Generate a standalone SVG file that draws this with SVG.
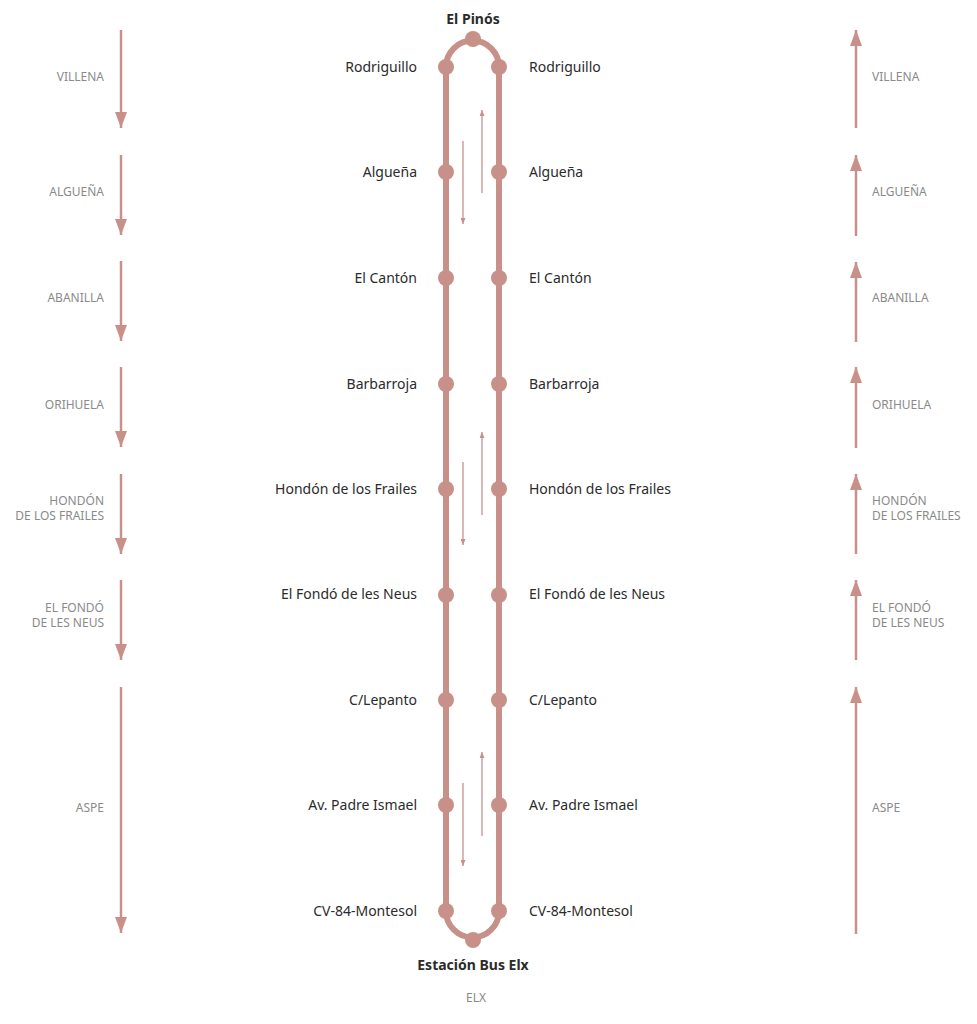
<svg xmlns="http://www.w3.org/2000/svg" width="977" height="1024" viewBox="0 0 977 1024">
<style>
.st{font-family:"Noto Sans","Open Sans",sans-serif;font-size:14px;fill:#2b2b2b}
.l{text-anchor:end}
.b{font-weight:bold;text-anchor:middle}
.g{font-family:"Noto Sans","Open Sans",sans-serif;font-size:12px;fill:#8a8a8a}
.rail{fill:none;stroke:#c7918a;stroke-width:6}
.dot{fill:#c7918a}
.big{stroke:#c7918a;stroke-width:2.5;fill:none}
.sm{stroke:#c7918a;stroke-width:1.3;fill:none}
</style>
<defs>
<marker id="bh" viewBox="0 0 16 12" markerUnits="userSpaceOnUse" markerWidth="16" markerHeight="12" refX="16" refY="6" orient="auto">
<path d="M0,0 L16,6 L0,12 Z" fill="#c7918a"/>
</marker>
<marker id="sh" viewBox="0 0 6 5" markerUnits="userSpaceOnUse" markerWidth="6" markerHeight="5" refX="6" refY="2.5" orient="auto">
<path d="M0,0 L6,2.5 L0,5 Z" fill="#c7918a"/>
</marker>
</defs>
<g id="connectors">
<path class="rail" d="M446,911 L446,67 A26.5,26.5 0 0 1 499,67 L499,911 A26.5,26.5 0 0 1 446,911"/>
<g id="left-arrows">
<line class="big" x1="121" y1="30" x2="121" y2="128" marker-end="url(#bh)"/>
<line class="big" x1="121" y1="155" x2="121" y2="235" marker-end="url(#bh)"/>
<line class="big" x1="121" y1="261" x2="121" y2="341" marker-end="url(#bh)"/>
<line class="big" x1="121" y1="367" x2="121" y2="447" marker-end="url(#bh)"/>
<line class="big" x1="121" y1="474" x2="121" y2="554" marker-end="url(#bh)"/>
<line class="big" x1="121" y1="580" x2="121" y2="660" marker-end="url(#bh)"/>
<line class="big" x1="121" y1="687" x2="121" y2="933" marker-end="url(#bh)"/>
</g>
<g id="right-arrows">
<line class="big" x1="856" y1="128" x2="856" y2="30" marker-end="url(#bh)"/>
<line class="big" x1="856" y1="236" x2="856" y2="155" marker-end="url(#bh)"/>
<line class="big" x1="856" y1="342" x2="856" y2="262" marker-end="url(#bh)"/>
<line class="big" x1="856" y1="448" x2="856" y2="367" marker-end="url(#bh)"/>
<line class="big" x1="856" y1="554" x2="856" y2="474" marker-end="url(#bh)"/>
<line class="big" x1="856" y1="660" x2="856" y2="580" marker-end="url(#bh)"/>
<line class="big" x1="856" y1="934" x2="856" y2="687" marker-end="url(#bh)"/>
</g>
<g id="direction-arrows">
<line class="sm" x1="463" y1="141" x2="463" y2="224" marker-end="url(#sh)"/>
<line class="sm" x1="482" y1="193" x2="482" y2="110" marker-end="url(#sh)"/>
<line class="sm" x1="463" y1="462" x2="463" y2="545" marker-end="url(#sh)"/>
<line class="sm" x1="482" y1="515" x2="482" y2="432" marker-end="url(#sh)"/>
<line class="sm" x1="463" y1="783" x2="463" y2="866" marker-end="url(#sh)"/>
<line class="sm" x1="482" y1="836" x2="482" y2="752" marker-end="url(#sh)"/>
</g>
</g>
<g id="node-elpinos"><circle class="dot" cx="473" cy="39" r="8"/><text class="st b" x="473" y="24">El Pinós</text></g>
<g id="node-rodriguillo">
<circle class="dot" cx="446" cy="67" r="8"/><circle class="dot" cx="499" cy="67" r="8"/>
<text class="st l" x="417" y="72">Rodriguillo</text><text class="st" x="529" y="72">Rodriguillo</text></g>
<g id="node-alguena">
<circle class="dot" cx="446" cy="172" r="8"/><circle class="dot" cx="499" cy="172" r="8"/>
<text class="st l" x="417" y="177">Algueña</text><text class="st" x="529" y="177">Algueña</text></g>
<g id="node-elcanton">
<circle class="dot" cx="446" cy="278" r="8"/><circle class="dot" cx="499" cy="278" r="8"/>
<text class="st l" x="417" y="283">El Cantón</text><text class="st" x="529" y="283">El Cantón</text></g>
<g id="node-barbarroja">
<circle class="dot" cx="446" cy="384" r="8"/><circle class="dot" cx="499" cy="384" r="8"/>
<text class="st l" x="417" y="389">Barbarroja</text><text class="st" x="529" y="389">Barbarroja</text></g>
<g id="node-hondon">
<circle class="dot" cx="446" cy="489" r="8"/><circle class="dot" cx="499" cy="489" r="8"/>
<text class="st l" x="417" y="494">Hondón de los Frailes</text><text class="st" x="529" y="494">Hondón de los Frailes</text></g>
<g id="node-fondo">
<circle class="dot" cx="446" cy="595" r="8"/><circle class="dot" cx="499" cy="595" r="8"/>
<text class="st l" x="417" y="599">El Fondó de les Neus</text><text class="st" x="529" y="599">El Fondó de les Neus</text></g>
<g id="node-lepanto">
<circle class="dot" cx="446" cy="700" r="8"/><circle class="dot" cx="499" cy="700" r="8"/>
<text class="st l" x="417" y="705">C/Lepanto</text><text class="st" x="529" y="705">C/Lepanto</text></g>
<g id="node-ismael">
<circle class="dot" cx="446" cy="805" r="8"/><circle class="dot" cx="499" cy="805" r="8"/>
<text class="st l" x="417" y="810">Av. Padre Ismael</text><text class="st" x="529" y="810">Av. Padre Ismael</text></g>
<g id="node-montesol">
<circle class="dot" cx="446" cy="911" r="8"/><circle class="dot" cx="499" cy="911" r="8"/>
<text class="st l" x="417" y="916">CV-84-Montesol</text><text class="st" x="529" y="916">CV-84-Montesol</text></g>
<g id="node-elx"><circle class="dot" cx="473" cy="940" r="8"/><text class="st b" x="473" y="970">Estación Bus Elx</text>
<text class="g" x="476" y="1002" text-anchor="middle">ELX</text></g>
<g id="zones-left" class="g" text-anchor="end">
<text x="104" y="81">VILLENA</text>
<text x="104" y="196">ALGUEÑA</text>
<text x="104" y="302">ABANILLA</text>
<text x="104" y="409">ORIHUELA</text>
<text x="104" y="505">HONDÓN</text><text x="104" y="520">DE LOS FRAILES</text>
<text x="104" y="612">EL FONDÓ</text><text x="104" y="627">DE LES NEUS</text>
<text x="104" y="812">ASPE</text>
</g>
<g id="zones-right" class="g">
<text x="872" y="81">VILLENA</text>
<text x="872" y="196">ALGUEÑA</text>
<text x="872" y="302">ABANILLA</text>
<text x="872" y="409">ORIHUELA</text>
<text x="872" y="505">HONDÓN</text><text x="872" y="520">DE LOS FRAILES</text>
<text x="872" y="612">EL FONDÓ</text><text x="872" y="627">DE LES NEUS</text>
<text x="872" y="812">ASPE</text>
</g>
</svg>
